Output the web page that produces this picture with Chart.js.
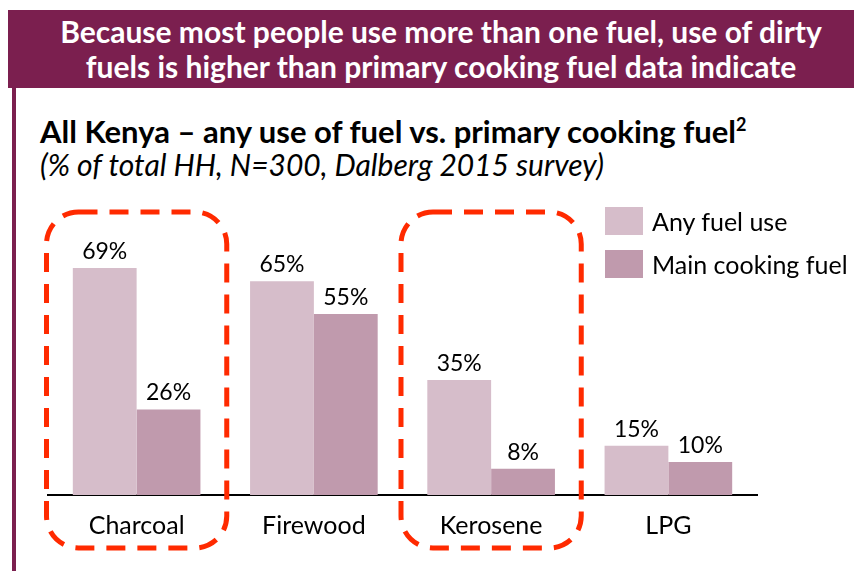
<!DOCTYPE html>
<html>
<head>
<meta charset="utf-8">
<script src="https://cdn.jsdelivr.net/npm/chart.js@4"></script>
<style>
  body { margin: 0; background: #fff; font-family: Lato, sans-serif; }
  #wrap { position: relative; width: 854px; height: 571px; overflow: hidden; }
  #banner {
    position: absolute; left: 8px; top: 10px; width: 846px; height: 78px;
    background: #7b1f4f; color: #fff; font-weight: bold; font-size: 30px;
    line-height: 35px; text-align: center; padding-top: 4px; box-sizing: border-box;
    padding-left: 20px; white-space: nowrap;
  }
  #leftLine { position: absolute; left: 12px; top: 88px; width: 4px; height: 483px; background: #7b1f4f; }
  #title { position: absolute; left: 40px; top: 105px; font-size: 31px; font-weight: bold; color: #000; white-space: nowrap; line-height: 40px; }
  #title sup { font-size: 18px; position: relative; top: -1px; }
  #subtitle { position: absolute; left: 40px; top: 144px; font-size: 30px; font-style: italic; color: #000; white-space: nowrap; line-height: 40px; }
  #legend { position: absolute; left: 605px; top: 207px; font-size: 25px; color: #000; }
  .item { display: flex; align-items: center; height: 28px; margin-bottom: 15px; white-space: nowrap; }
  .box { width: 38px; height: 28px; margin-right: 9px; }
  canvas { position: absolute; left: 0; top: 0; }
</style>
</head>
<body>
<div id="wrap">
  <div id="banner">Because most people use more than one fuel, use of dirty<br>fuels is higher than primary cooking fuel data indicate</div>
  <div id="leftLine"></div>
  <div id="title">All Kenya – any use of fuel vs. primary cooking fuel<sup>2</sup></div>
  <div id="subtitle">(% of total HH, N=300, Dalberg 2015 survey)</div>
  <canvas id="chart" width="854" height="571"></canvas>
  <div id="legend"></div>
</div>
<script>
// Data
const fuels = ['Charcoal', 'Firewood', 'Kerosene', 'LPG'];
const anyUse = [69, 65, 35, 15];
const mainFuel = [26, 55, 8, 10];
const seriesNames = ['Any fuel use', 'Main cooking fuel'];
const seriesColors = ['#d6bdca', '#c09aad'];
const highlighted = ['Charcoal', 'Kerosene'];

const FONT = "Lato, sans-serif";

// Value labels above bars
const valueLabels = {
    id: 'valueLabels',
    afterDatasetsDraw(chart) {
        const ctx = chart.ctx;
        ctx.save();
        ctx.fillStyle = '#000';
        ctx.font = '23px ' + FONT;
        ctx.textAlign = 'center';
        ctx.textBaseline = 'alphabetic';
        chart.data.datasets.forEach((ds, i) => {
            chart.getDatasetMeta(i).data.forEach((bar, j) => {
                ctx.fillText(ds.data[j] + '%', bar.x, bar.y - 9);
            });
        });
        ctx.restore();
    }
};

// Red dashed rounded boxes around highlighted categories
const highlightBoxes = {
    id: 'highlightBoxes',
    afterDraw(chart) {
        const ctx = chart.ctx;
        const xs = chart.scales.x;
        const step = xs.width / fuels.length;
        ctx.save();
        ctx.strokeStyle = '#ff2a00';
        ctx.lineWidth = 5;
        ctx.setLineDash([19, 12]);
        highlighted.forEach(name => {
            const cx = xs.getPixelForValue(fuels.indexOf(name));
            const w = step + 3;
            const left = cx - w / 2;
            const top = 212, h = 336;
            ctx.beginPath();
            ctx.roundRect(left, top, w, h, 32);
            ctx.stroke();
        });
        ctx.restore();
    }
};

new Chart(document.getElementById('chart'), {
    type: 'bar',
    data: {
        labels: fuels,
        datasets: [
            { label: seriesNames[0], data: anyUse, backgroundColor: seriesColors[0] },
            { label: seriesNames[1], data: mainFuel, backgroundColor: seriesColors[1] }
        ]
    },
    options: {
        responsive: false,
        animation: false,
        layout: { padding: { left: 48, right: 97, top: 199, bottom: 14 } },
        categoryPercentage: 0.72,
        barPercentage: 1,
        scales: {
            x: {
                grid: { display: false, drawTicks: false },
                border: { color: '#000', width: 2 },
                ticks: { color: '#000', font: { size: 25, family: FONT }, padding: 16 }
            },
            y: {
                display: false,
                min: 0,
                max: 90
            }
        },
        plugins: { legend: { display: false }, tooltip: { enabled: false } }
    },
    plugins: [valueLabels, highlightBoxes]
});

// Legend
const legend = document.getElementById('legend');
seriesNames.forEach((name, i) => {
    const item = document.createElement('div');
    item.className = 'item';
    item.innerHTML = `<div class="box" style="background:${seriesColors[i]}"></div>${name}`;
    legend.appendChild(item);
});
</script>
</body>
</html>
